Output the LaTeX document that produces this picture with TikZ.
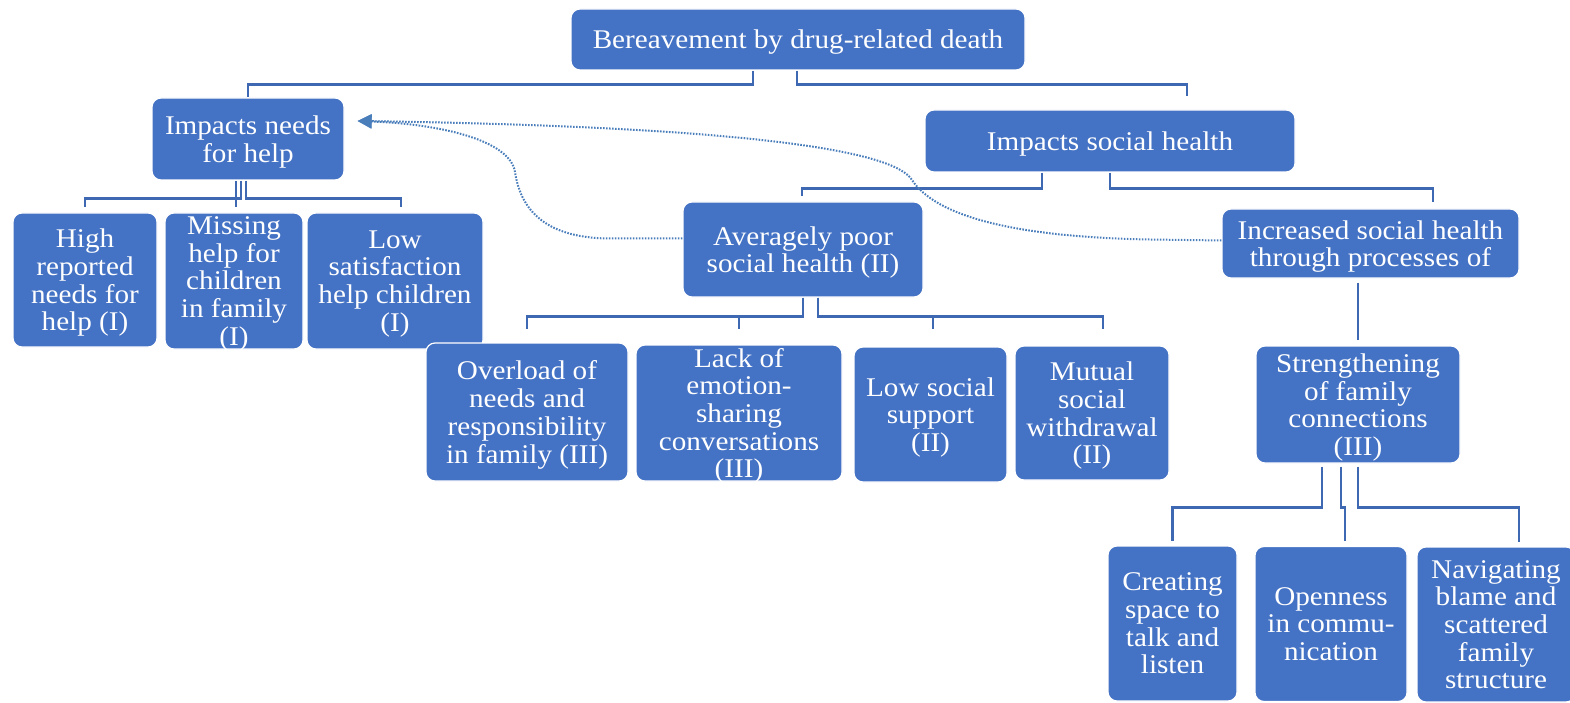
\documentclass[tikz,border=0pt]{standalone}
\usepackage{fontspec}
\setmainfont{Liberation Serif}[FakeStretch=1.08]
\usetikzlibrary{arrows.meta}
\definecolor{boxblue}{RGB}{68,114,196}
\definecolor{linkblue}{RGB}{63,104,178}
\definecolor{dotblue}{RGB}{74,126,187}

\begin{document}
\begin{tikzpicture}[x=1pt,y=-1pt,
  card/.style={draw=white, line width=1.2pt, fill=boxblue, rounded corners=9pt,
    text=white, align=center, inner sep=0pt, text depth=-1.5pt,
    font=\fontsize{27}{27.7}\selectfont},
  conn/.style={draw=linkblue, line width=2.4pt},
  link/.style={draw=dotblue, line width=2pt, dash pattern=on 1.6pt off 1.4pt,
    -{Triangle[length=14pt,width=14pt]}}
]
\useasboundingbox (0,0) rectangle (1570,703);

% top levels
\node[card, minimum width=454pt, minimum height=61pt] (root) at (798,39.5)
  {Bereavement by drug-related death};
\node[card, minimum width=192pt, minimum height=82pt] (needs) at (248,139)
  {Impacts needs\\for help};
\node[card, minimum width=370pt, minimum height=62pt] (social) at (1110,141)
  {Impacts social health};

% needs for help branch
\node[card, minimum width=144pt, minimum height=134pt] (high) at (85,280)
  {High\\reported\\needs for\\help (I)};
\node[card, minimum width=138pt, minimum height=136pt] (missing) at (234,281)
  {Missing\\help for\\children\\in family\\(I)};
\node[card, minimum width=176pt, minimum height=136pt] (low) at (395,281)
  {Low\\satisfaction\\help children\\(I)};

% social health branch
\node[card, minimum width=240pt, minimum height=95pt] (avg) at (803,249.5)
  {Averagely poor\\social health (II)};
\node[card, minimum width=297pt, minimum height=69pt] (incr) at (1370.5,243.5)
  {Increased social health\\through processes of};

\node[card, minimum width=202pt, minimum height=138pt] (overload) at (527,412)
  {Overload of\\needs and\\responsibility\\in family (III)};
\node[card, minimum width=206pt, minimum height=136pt] (lack) at (739,413)
  {Lack of\\emotion-\\sharing\\conversations\\(III)};
\node[card, minimum width=153pt, minimum height=135pt] (lowsoc) at (930.5,414.5)
  {Low social\\support\\(II)};
\node[card, minimum width=154pt, minimum height=134pt] (mutual) at (1092,413)
  {Mutual\\social\\withdrawal\\(II)};

\node[card, minimum width=204pt, minimum height=117pt] (strength) at (1358,404.5)
  {Strengthening\\of family\\connections\\(III)};
\node[card, minimum width=129pt, minimum height=155pt] (creating) at (1172.5,623.5)
  {Creating\\space to\\talk and\\listen};
\node[card, minimum width=152pt, minimum height=155pt] (openness) at (1331,624)
  {Openness\\in commu-\\nication};
\node[card, minimum width=158pt, minimum height=155pt] (navigating) at (1496,624.5)
  {Navigating\\blame and\\scattered\\family\\structure};

% elbow connectors
\draw[conn] ([xshift=-45pt]root.south) -- ++(0,14) -| (needs.north);
\draw[conn] ([xshift=-1pt]root.south) -- ++(0,14) -| ([xshift=77pt,yshift=13pt]social.north);

\draw[conn] ([xshift=-7pt]needs.south) -- ++(0,18) -| ([yshift=5pt]high.north);
\draw[conn] ([xshift=-12pt]needs.south) -- ([xshift=2pt,yshift=5pt]missing.north);
\draw[conn] ([xshift=-2pt]needs.south) -- ++(0,18) -| ([xshift=6pt,yshift=5pt]low.north);

\draw[conn] ([xshift=-68pt]social.south) -- ++(0,16) -| ([xshift=-1pt,yshift=5pt]avg.north);
\draw[conn] (social.south) -- ++(0,16) -| ([xshift=62.5pt,yshift=6pt]incr.north);

\draw[conn] (avg.south) -- ++(0,19) -| ([yshift=13pt]overload.north);
\draw[conn] (avg.south) -- ++(0,19) -| ([yshift=15pt]lack.north);
\draw[conn] ([xshift=15pt]avg.south) -- ++(0,19) -| ([xshift=2.5pt,yshift=17pt]lowsoc.north);
\draw[conn] ([xshift=15pt]avg.south) -- ++(0,19) -| ([xshift=11pt,yshift=16pt]mutual.north);

\path (incr.south -| strength.north) ++(0,4) coordinate (incrfoot);
\draw[conn] (incrfoot) -- ([yshift=5pt]strength.north);

\draw[conn] ([xshift=-36pt,yshift=-3pt]strength.south) -- ++(0,41) -| ([yshift=4pt]creating.north);
\draw[conn] ([xshift=-17pt,yshift=-3pt]strength.south) -- ++(0,41) -- ++(4,0) -- ([xshift=14pt,yshift=5pt]openness.north);
\draw[conn] ([yshift=-3pt]strength.south) -- ++(0,41) -| ([xshift=23pt,yshift=4pt]navigating.north);

% dotted feedback arrows
\coordinate (tip) at ([xshift=13pt,yshift=18pt]needs.east);
\draw[link] ([yshift=11pt]avg.west) -- ++(-73,0)
  .. controls (540,238) and (520,205) .. (515,172)
  .. controls (510,140) and (440,124) .. (tip);
\draw[link] ([yshift=3pt]incr.west) -- ++(-72,-1)
  .. controls (1010,237) and (935,215) .. (912,180)
  .. controls (895,152) and (760,127) .. (tip);
\end{tikzpicture}
\end{document}
